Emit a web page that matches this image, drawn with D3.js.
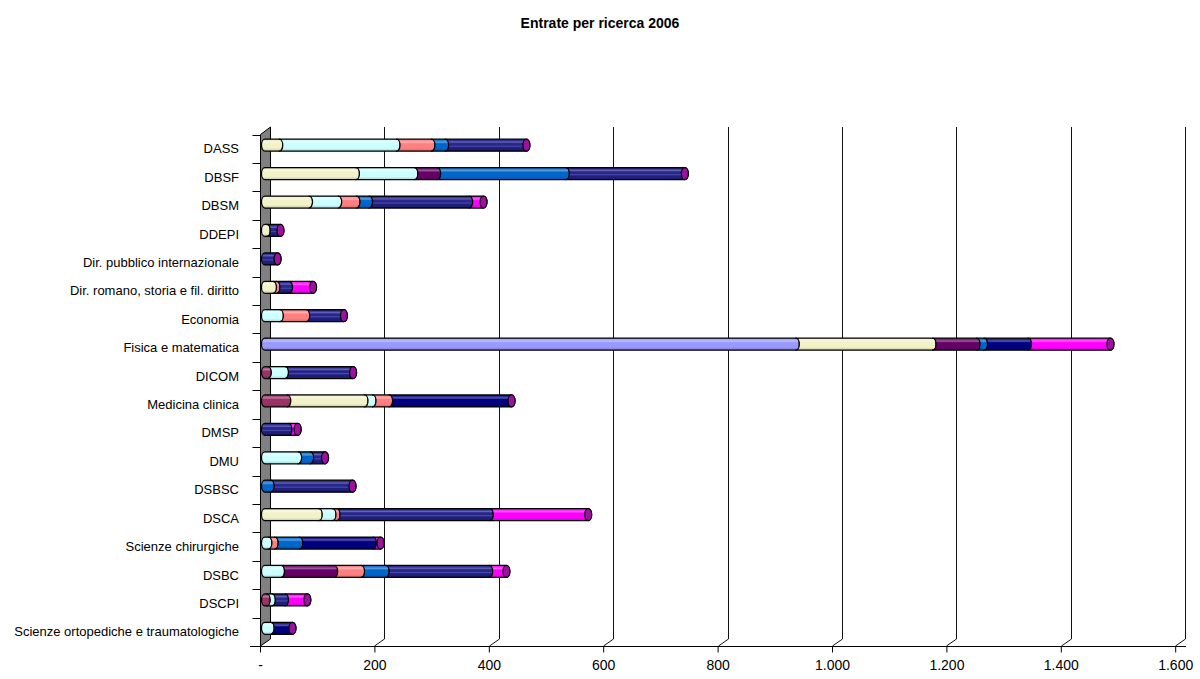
<!DOCTYPE html>
<html>
<head>
<meta charset="utf-8">
<script src="https://cdn.jsdelivr.net/npm/d3@7"></script>
<style>
  html, body { margin: 0; padding: 0; background: #fff; }
  svg { display: block; font-family: "Liberation Sans", Arial, sans-serif; }
</style>
</head>
<body>
<svg id="chart" width="1200" height="679"></svg>
<script>
// Dipartimenti (dall'alto verso il basso)
const categories = [
  "DASS", "DBSF", "DBSM", "DDEPI", "Dir. pubblico internazionale",
  "Dir. romano, storia e fil. diritto", "Economia", "Fisica e matematica",
  "DICOM", "Medicina clinica", "DMSP", "DMU", "DSBSC", "DSCA",
  "Scienze chirurgiche", "DSBC", "DSCPI", "Scienze ortopediche e traumatologiche"
];

// Valori delle singole voci di entrata, nell'ordine di impilamento
const voce1  = [0, 0, 0, 0, 0, 0, 0, 928, 0, 0, 0, 0, 0, 0, 0, 0, 0, 0];
const voce2  = [0, 0, 0, 0, 0, 0, 0, 0, 5, 39, 0, 0, 0, 0, 0, 0, 3, 0];
const voce3  = [25, 159, 77, 3, 0, 14, 0, 239, 0, 135, 0, 0, 0, 94, 0, 0, 0, 0];
const voce4  = [205, 102, 51, 0, 0, 0, 26, 0, 30, 14, 0, 58, 0, 24, 6, 28, 9, 10];
const voce5  = [0, 40, 0, 0, 0, 0, 0, 77, 0, 0, 0, 0, 0, 0, 0, 93, 0, 0];
const voce6  = [61, 0, 32, 0, 0, 6, 46, 0, 0, 29, 0, 0, 0, 7, 11, 47, 0, 0];
const voce7  = [24, 225, 22, 0, 0, 0, 0, 13, 0, 0, 0, 21, 10, 0, 43, 43, 0, 0];
const voce8  = [142, 208, 175, 24, 22, 22, 66, 0, 119, 0, 41, 26, 143, 268, 0, 181, 23, 0];
const voce9  = [0, 0, 0, 0, 0, 0, 0, 77, 0, 214, 0, 0, 0, 0, 129, 0, 0, 38];
const voce10 = [0, 0, 25, 0, 0, 42, 0, 144, 0, 0, 16, 0, 0, 172, 13, 30, 39, 0];

const seriesValues = [voce1, voce2, voce3, voce4, voce5, voce6, voce7, voce8, voce9, voce10];
const seriesColors = ["#9999FF", "#993366", "#F2F2C8", "#CCFFFF", "#660066",
                      "#FF8080", "#0066CC", "#2E2E92", "#000080", "#FF00FF"];

const xTicks = [0, 200, 400, 600, 800, 1000, 1200, 1400, 1600];
const title = "Entrate per ricerca 2006";

// ---- layout ----
const svg = d3.select("#chart");
const floorY = 646, topY = 127;
const depthX = 10, depthY = -7;          // profondità della scena 3D
const barR = 6, capRx = 3.5;             // raggio del cilindro e dell'ellisse

const x = d3.scaleLinear().domain([0, 1600]).range([260, 1175.2]);
const y = d3.scaleBand().domain(categories).range([134.5, floorY]).padding(0);

const locale = d3.formatLocale({ decimal: ",", thousands: ".", grouping: [3], currency: ["", ""] });
const fmt = locale.format(",");

// ---- gradienti per l'effetto cilindro ----
const defs = svg.append("defs");
function mix(a, b, t) { return d3.interpolateRgb(a, b)(t); }
seriesColors.forEach((c, i) => {
  const g = defs.append("linearGradient").attr("id", "g" + i)
    .attr("x1", 0).attr("y1", 0).attr("x2", 0).attr("y2", 1);
  let stops;
  if (i === 7) {
    stops = [[0, "#10104e"], [0.1, "#2c2c8c"], [0.24, "#6464bc"], [0.34, "#2a2a8a"],
             [0.5, "#26268a"], [0.58, "#4a4aaa"], [0.68, "#22227e"], [0.9, "#1c1c76"], [1, "#0c0c40"]];
  } else {
    const base = d3.color(c);
    stops = [[0, base.darker(0.7).formatHex()], [0.12, mix(c, "#ffffff", 0.15)],
             [0.25, mix(c, "#ffffff", 0.35)], [0.38, c], [0.75, c],
             [1, base.darker(0.6).formatHex()]];
  }
  stops.forEach(([o, col]) => g.append("stop").attr("offset", o).attr("stop-color", col));
});

// ---- titolo ----
svg.append("text")
  .attr("x", 600).attr("y", 28)
  .attr("text-anchor", "middle")
  .attr("font-size", 14).attr("font-weight", "bold")
  .text(title);

// ---- griglia verticale (parete di fondo + pavimento) ----
const grid = svg.append("g").attr("stroke", "#111").attr("stroke-width", 1).attr("fill", "none");
xTicks.filter(v => v > 0).forEach(v => {
  const fx = Math.round(x(v)) + 0.5;
  grid.append("path")
    .attr("d", `M${fx},${floorY} L${fx + depthX},${floorY + depthY} L${fx + depthX},${topY}`);
});

// ---- parete sinistra ----
const wx = Math.round(x(0)) + 0.5;
svg.append("path")
  .attr("d", `M${wx},${y.range()[0]} L${wx + depthX},${topY} L${wx + depthX},${floorY + depthY} L${wx},${floorY} Z`)
  .attr("fill", "#808080").attr("stroke", "#000").attr("stroke-width", 1);

// tacche delle categorie
const catTicks = categories.map(c => y(c)).concat([floorY]);
svg.append("g").selectAll("line").data(catTicks).join("line")
  .attr("x1", wx - 8).attr("x2", wx)
  .attr("y1", d => Math.round(d) + 0.5).attr("y2", d => Math.round(d) + 0.5)
  .attr("stroke", "#000");

// etichette delle categorie
svg.append("g").selectAll("text").data(categories).join("text")
  .attr("x", 239)
  .attr("y", d => y(d) + y.bandwidth() / 2)
  .attr("dy", "0.35em")
  .attr("text-anchor", "end")
  .attr("font-size", 13)
  .attr("fill", "#000")
  .text(d => d);

// ---- asse x ----
const axisG = svg.append("g").attr("transform", `translate(0,${floorY + 0.5})`);
axisG.call(d3.axisBottom(x).tickValues(xTicks).tickSize(6).tickSizeOuter(0)
  .tickFormat(d => d === 0 ? "-" : fmt(d)));
axisG.select(".domain").remove();
axisG.append("line").attr("x1", 250).attr("x2", 1186).attr("stroke", "#000");
axisG.selectAll(".tick line").attr("stroke", "#000");
axisG.selectAll(".tick text")
  .attr("font-size", 14).attr("font-family", "Liberation Sans, Arial, sans-serif")
  .attr("fill", "#000").attr("dy", "1.05em");

// ---- cilindri impilati ----
const barsG = svg.append("g");
categories.forEach((cat, ci) => {
  const cy = y(cat) + y.bandwidth() / 2 + depthY / 2;
  const ox = depthX / 2;
  const top = cy - barR, bot = cy + barR;
  let acc = 0, first = true;
  seriesValues.forEach((vals, si) => {
    const v = vals[ci];
    if (!v) return;
    const x0 = x(acc) + ox, x1 = x(acc + v) + ox;
    acc += v;
    const leftSweep = first ? 1 : 0;
    first = false;
    const d = `M${x0},${top} L${x1},${top} A${capRx},${barR} 0 0 1 ${x1},${bot} ` +
              `L${x0},${bot} A${capRx},${barR} 0 0 ${leftSweep} ${x0},${top} Z`;
    barsG.append("path")
      .attr("d", d)
      .attr("fill", `url(#g${si})`)
      .attr("stroke", "#000").attr("stroke-width", 1.2)
      .attr("stroke-linejoin", "round");
  });
  // faccia terminale del cilindro
  barsG.append("ellipse")
    .attr("cx", x(acc) + ox).attr("cy", cy)
    .attr("rx", capRx).attr("ry", barR)
    .attr("fill", "#A010A0")
    .attr("stroke", "#000").attr("stroke-width", 1.2);
});
</script>
</body>
</html>
